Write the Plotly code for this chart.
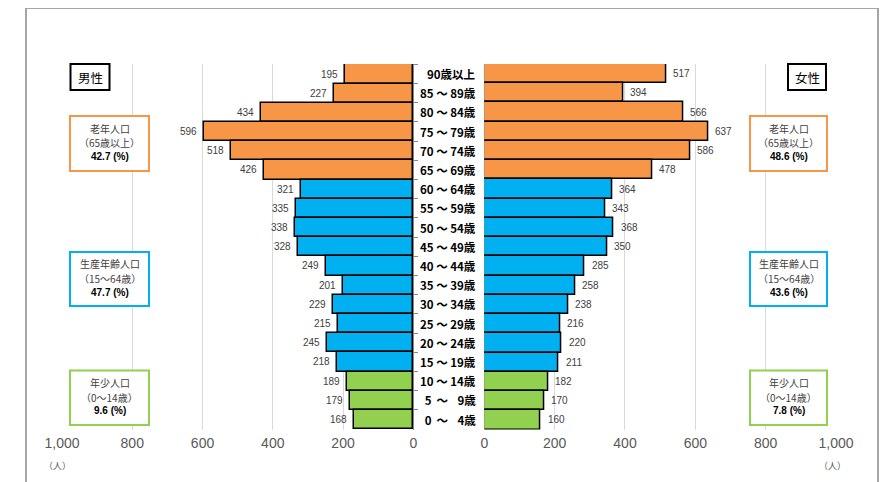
import plotly.graph_objects as go

ages = ["90歳以上", "85 ～ 89歳", "80 ～ 84歳", "75 ～ 79歳", "70 ～ 74歳", "65 ～ 69歳",
        "60 ～ 64歳", "55 ～ 59歳", "50 ～ 54歳", "45 ～ 49歳", "40 ～ 44歳", "35 ～ 39歳",
        "30 ～ 34歳", "25 ～ 29歳", "20 ～ 24歳", "15 ～ 19歳", "10 ～ 14歳",
        "\u20075 \u2009～ \u20079歳", "\u20070 \u2009～ \u20074歳"]
male = [195, 227, 434, 596, 518, 426, 321, 335, 338, 328, 249, 201, 229, 215, 245, 218, 189, 179, 168]
female = [517, 394, 566, 637, 586, 478, 364, 343, 368, 350, 285, 258, 238, 216, 220, 211, 182, 170, 160]
groups = ["old"] * 6 + ["work"] * 10 + ["young"] * 3
tick_vals = [0, 200, 400, 600, 800, 1000]
tick_text = ["0", "200", "400", "600", "800", "1,000"]
boxes_male = [("老年人口", "（65歳以上）", "42.7 (%)"),
              ("生産年齢人口", "（15～64歳）", "47.7 (%)"),
              ("年少人口", "（0～14歳）", "9.6 (%)")]
boxes_female = [("老年人口", "（65歳以上）", "48.6 (%)"),
                ("生産年齢人口", "（15～64歳）", "43.6 (%)"),
                ("年少人口", "（0～14歳）", "7.8 (%)")]

COL = {"old": "#F79646", "work": "#00B0F0", "young": "#92D050"}
BOXCOL = ["#F79646", "#00B0F0", "#92D050"]
colors = [COL[g] for g in groups]

OFF = 8  # page body margin
W, H = 891 - OFF, 482 - OFF
def px(x):
    return (x - OFF) / W
def py(y):
    return 1 - (y - OFF) / H

JP = "Noto Sans CJK JP"
NUMF = "Liberation Sans"

fig = go.Figure()
fig.add_trace(go.Bar(y=ages, x=male, orientation="h", xaxis="x", yaxis="y",
                     marker=dict(color=colors, line=dict(color="#000000", width=1.5)),
                     showlegend=False, hoverinfo="x+y"))
fig.add_trace(go.Bar(y=ages, x=female, orientation="h", xaxis="x2", yaxis="y2",
                     marker=dict(color=colors, line=dict(color="#000000", width=1.5)),
                     showlegend=False, hoverinfo="x+y"))

ann = []
for a, m, f in zip(ages, male, female):
    ann.append(dict(x=m, y=a, xref="x", yref="y", text=str(m), showarrow=False,
                    xanchor="right", yanchor="middle", xshift=-5,
                    font=dict(size=10, color="#404040", family=NUMF)))
    ann.append(dict(x=f, y=a, xref="x2", yref="y2", text=str(f), showarrow=False,
                    xanchor="left", yanchor="middle", xshift=5,
                    font=dict(size=10, color="#404040", family=NUMF)))
    ann.append(dict(x=px(478), y=a, xref="paper", yref="y", text="<b>" + a + "</b>", showarrow=False,
                    xanchor="right", yanchor="middle", font=dict(size=11.5, color="#000000", family=JP)))

shapes = []
# outer frame
shapes.append(dict(type="rect", xref="paper", yref="paper", x0=px(26), x1=px(878), y0=-0.1, y1=py(8),
                   line=dict(color="#A6A6A6", width=2), layer="below"))
# gender boxes
for (x0, x1, label) in [(70.5, 109.5, "男性"), (788, 826, "女性")]:
    shapes.append(dict(type="rect", xref="paper", yref="paper", x0=px(x0), x1=px(x1), y0=py(90), y1=py(64),
                       line=dict(color="#000000", width=2), fillcolor="#FFFFFF"))
    ann.append(dict(x=px((x0 + x1) / 2), y=py(77), xref="paper", yref="paper", text=label, showarrow=False,
                    xanchor="center", yanchor="middle", font=dict(size=12.5, color="#000000", family=JP)))

box_y = [(116, 171), (252, 306), (370.5, 425)]
for side_boxes, (bx0, bx1) in [(boxes_male, (70, 149)), (boxes_female, (750, 827))]:
    for i, (l1, l2, l3) in enumerate(side_boxes):
        y0, y1 = box_y[i]
        shapes.append(dict(type="rect", xref="paper", yref="paper", x0=px(bx0), x1=px(bx1),
                           y0=py(y1), y1=py(y0), line=dict(color=BOXCOL[i], width=2), fillcolor="#FFFFFF"))
        cx = px((bx0 + bx1) / 2)
        cy = (y0 + y1) / 2
        for txt, dy, fam, col in [(l1, -15, JP, "#404040"), (l2, -0.5, JP, "#404040"),
                                  ("<b>" + l3 + "</b>", 13, NUMF, "#000000")]:
            ann.append(dict(x=cx, y=py(cy + dy), xref="paper", yref="paper", text=txt, showarrow=False,
                            xanchor="center", yanchor="middle", font=dict(size=10, color=col, family=fam)))

for x in (57, 832):
    ann.append(dict(x=px(x), y=py(465), xref="paper", yref="paper", text="（人）", showarrow=False,
                    xanchor="center", yanchor="middle", font=dict(size=9, color="#595959", family=JP)))

ydom = [py(429.5), py(64)]
common_x = dict(tickvals=tick_vals, ticktext=tick_text, showgrid=True, gridcolor="#D9D9D9", gridwidth=1,
                zeroline=False, showline=False, ticks="", fixedrange=True, automargin=False,
                ticklabelstandoff=3,
                tickfont=dict(size=14, color="#595959", family=NUMF))
fig.update_layout(
    width=W, height=H, margin=dict(l=0, r=0, t=0, b=0, autoexpand=False),
    paper_bgcolor="#FFFFFF", plot_bgcolor="rgba(0,0,0,0)",
    bargap=0,
    xaxis=dict(domain=[px(62), px(413.3)], range=[1000, 0], anchor="y", **common_x),
    xaxis2=dict(domain=[px(484.3), px(836)], range=[0, 1000], anchor="y2", **common_x),
    yaxis=dict(domain=ydom, anchor="x", side="right", autorange="reversed", showticklabels=False,
               showline=True, linecolor="#868686", linewidth=1, ticks="outside", ticklen=4,
               tickcolor="#868686", tickson="boundaries", showgrid=False, fixedrange=True, automargin=False),
    yaxis2=dict(domain=ydom, anchor="x2", autorange="reversed", showticklabels=False,
                showline=False, ticks="", showgrid=False, fixedrange=True, automargin=False),
    annotations=ann, shapes=shapes,
)

fig.write_html("out.html")
